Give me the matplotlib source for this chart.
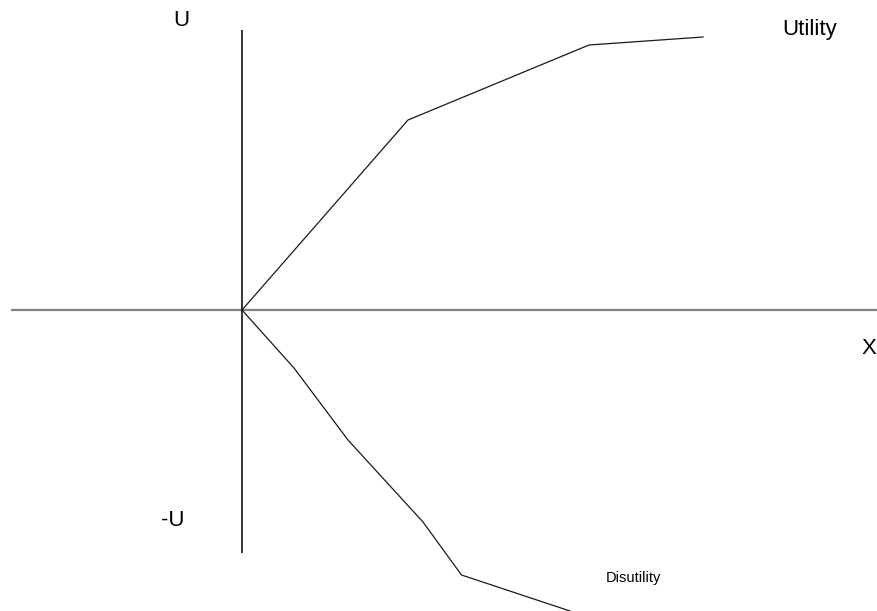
import matplotlib
matplotlib.use('Agg')
import matplotlib.pyplot as plt

plt.rcParams['font.family'] = ['Liberation Sans', 'DejaVu Sans']

# utility / disutility curves (schematic units, origin at axes crossing)
utility_x = [0, 16.6, 34.7, 46.1]
utility_u = [0, 19.0, 26.5, 27.3]

disutility_x = [0, 5.2, 10.6, 18.1, 21.95, 32.8]
disutility_u = [0, -5.8, -13.0, -21.2, -26.5, -30.1]

# axis extents
u_axis = [28.0, -24.3]
x_axis = [-23.1, 63.5]


def draw():
    fig = plt.figure(figsize=(8.77, 6.11), dpi=100)
    ax = fig.add_axes([0, 0, 1, 1])
    ax.set_xlim(-24.2, 63.5)
    ax.set_ylim(-30.1, 31.0)
    ax.axis('off')

    ax.plot(x_axis, [0, 0], color='#808080', lw=1.6, solid_capstyle='butt')
    ax.plot([0, 0], u_axis, color='black', lw=1.1, solid_capstyle='butt')

    ax.plot(utility_x, utility_u, color='#1a1a1a', lw=0.9, clip_on=False)
    ax.plot(disutility_x, disutility_u, color='#1a1a1a', lw=0.9, clip_on=False)

    ax.text(-6.03, 28.93, 'U', fontsize=16, ha='center', va='center')
    ax.text(-6.9, -21.1, '-U', fontsize=16, ha='center', va='center')
    ax.text(56.8, 28.0, 'Utility', fontsize=16, ha='center', va='center')
    ax.text(62.7, -3.8, 'X', fontsize=16, ha='center', va='center')
    ax.text(39.1, -26.8, 'Disutility', fontsize=10.5, ha='center', va='center')

    fig.savefig('out.png', dpi=100)


draw()
